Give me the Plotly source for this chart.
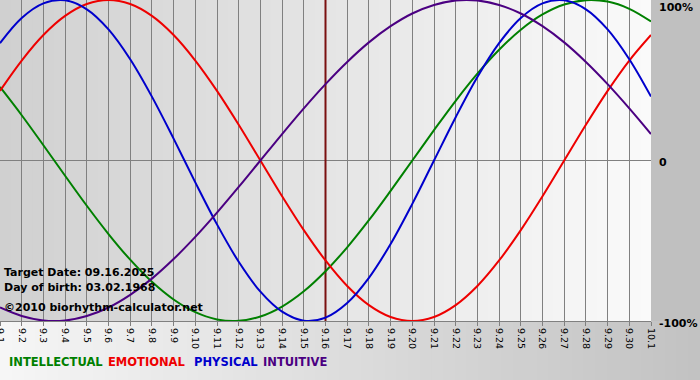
import plotly.graph_objects as go

# ---- data ----
dates = ["9.1", "9.2", "9.3", "9.4", "9.5", "9.6", "9.7", "9.8", "9.9", "9.10",
         "9.11", "9.12", "9.13", "9.14", "9.15", "9.16", "9.17", "9.18", "9.19", "9.20",
         "9.21", "9.22", "9.23", "9.24", "9.25", "9.26", "9.27", "9.28", "9.29", "9.30", "10.1"]

intellectual = [0.458, 0.282, 0.095, -0.095, -0.282, -0.458, -0.618, -0.756, -0.866, -0.945,
                -0.990, -0.999, -0.972, -0.910, -0.815, -0.690, -0.541, -0.372, -0.189, 0.000,
                0.189, 0.372, 0.541, 0.690, 0.815, 0.910, 0.972, 0.999, 0.990, 0.945, 0.866]

emotional = [0.434, 0.623, 0.782, 0.901, 0.975, 1.000, 0.975, 0.901, 0.782, 0.623,
             0.434, 0.223, 0.000, -0.223, -0.434, -0.623, -0.782, -0.901, -0.975, -1.000,
             -0.975, -0.901, -0.782, -0.623, -0.434, -0.223, 0.000, 0.223, 0.434, 0.623, 0.782]

physical = [0.731, 0.888, 0.979, 0.998, 0.942, 0.817, 0.631, 0.398, 0.136, -0.136,
            -0.398, -0.631, -0.817, -0.942, -0.998, -0.979, -0.888, -0.731, -0.520, -0.270,
            0.000, 0.270, 0.520, 0.731, 0.888, 0.979, 0.998, 0.942, 0.817, 0.631, 0.398]

intuitive = [-0.916, -0.969, -0.997, -0.997, -0.969, -0.916, -0.837, -0.736, -0.614, -0.476,
             -0.325, -0.165, 0.000, 0.165, 0.325, 0.476, 0.614, 0.736, 0.837, 0.916,
             0.969, 0.997, 0.997, 0.969, 0.916, 0.837, 0.736, 0.614, 0.476, 0.325, 0.165]

target_date = "9.16"
y_tick_text = ["100%", "0", "-100%"]
series_names = ["INTELLECTUAL", "EMOTIONAL", "PHYSICAL", "INTUITIVE"]
info_lines = ["Target Date: 09.16.2025", "Day of birth: 03.02.1968", "\u00a92010 biorhythm-calculator.net"]

# ---- styling ----
W, H = 700, 380
ML, MR, MT, MB = 0, 49, 0, 59
PW, PH = W - ML - MR, H - MT - MB
colors = {"INTELLECTUAL": "#008000", "EMOTIONAL": "#ee0000",
          "PHYSICAL": "#0000cc", "INTUITIVE": "#4b0082"}
values = {"INTELLECTUAL": intellectual, "EMOTIONAL": emotional,
          "PHYSICAL": physical, "INTUITIVE": intuitive}

fig = go.Figure()
# target date marker line (drawn first so the curves pass over it)
fig.add_trace(go.Scatter(x=[target_date, target_date], y=[-1.05, 1.05], mode="lines",
                         line=dict(color="#7a1010", width=2), hoverinfo="skip", name="target"))
for name in series_names:
    fig.add_trace(go.Scatter(x=dates, y=values[name], mode="lines",
                             line=dict(color=colors[name], width=2, shape="spline", smoothing=1.0),
                             name=name, hoverinfo="skip"))

def px_x(p):
    return (p - ML) / PW

def px_y(p):
    return (H - MB - p) / PH

shapes = []
# plot-area gradient
n = 60
for i in range(n):
    c = int(round(208 + (250 - 208) * (i + 0.5) / n))
    shapes.append(dict(type="rect", xref="paper", yref="paper",
                       x0=i / n, x1=(i + 1) / n + 0.002, y0=0, y1=1,
                       fillcolor=f"rgb({c},{c},{c})", line=dict(width=0), layer="below"))
# right strip
shapes.append(dict(type="rect", xref="paper", yref="paper", x0=1, x1=px_x(W + 2), y0=0, y1=1.01,
                   fillcolor="#c0c0c0", line=dict(width=0), layer="below"))
# bottom band gradient
for i in range(n):
    c = int(round(246 - (246 - 194) * (i + 0.5) / n))
    shapes.append(dict(type="rect", xref="paper", yref="paper",
                       x0=px_x(W * i / n), x1=px_x(W * (i + 1) / n + 1), y0=px_y(H + 2), y1=0,
                       fillcolor=f"rgb({c},{c},{c})", line=dict(width=0), layer="below"))

annotations = []
info_y = [272, 287, 307]
for txt, yy in zip(info_lines, info_y):
    annotations.append(dict(text="<b>" + txt + "</b>", xref="paper", yref="paper",
                            x=px_x(2), y=px_y(yy), xanchor="left", yanchor="middle",
                            showarrow=False, font=dict(family="DejaVu Sans", size=11, color="#000000")))
legend_x = [7, 106, 192, 261]
for name, lx in zip(series_names, legend_x):
    annotations.append(dict(text="<b>" + name + "</b>", xref="paper", yref="paper",
                            x=px_x(lx), y=px_y(362), xanchor="left", yanchor="middle",
                            showarrow=False, font=dict(family="DejaVu Sans", size=11.5, color=colors[name])))
ylab_y = [7, 162, 323]
for txt, yy in zip(y_tick_text, ylab_y):
    annotations.append(dict(text="<b>" + txt + "</b>", xref="paper", yref="paper",
                            x=px_x(657), y=px_y(yy), xanchor="left", yanchor="middle",
                            showarrow=False, font=dict(family="DejaVu Sans", size=11, color="#000000")))

fig.update_layout(
    width=W, height=H,
    margin=dict(l=ML, r=MR, t=MT, b=MB, autoexpand=False),
    paper_bgcolor="#c8c8c8", plot_bgcolor="rgba(0,0,0,0)",
    showlegend=False, shapes=shapes, annotations=annotations,
    xaxis=dict(type="category", categoryorder="array", categoryarray=dates,
               range=[0, len(dates) - 1], tickvals=dates, ticktext=dates, tickangle=90,
               showgrid=True, gridcolor="#808080", gridwidth=1,
               showline=True, linecolor="#808080", linewidth=1,
               ticks="outside", ticklen=4, tickcolor="#808080",
               tickfont=dict(family="DejaVu Sans", size=9.5, color="#000000"),
               zeroline=False, fixedrange=True, automargin=False),
    yaxis=dict(range=[-1, 1], showgrid=False, showticklabels=False, ticks="",
               zeroline=True, zerolinecolor="#808080", zerolinewidth=1, fixedrange=True,
               automargin=False),
)

fig.write_html("out.html", config={"displayModeBar": False},
               post_script="document.body.style.margin='0px';document.body.style.overflow='hidden';")
